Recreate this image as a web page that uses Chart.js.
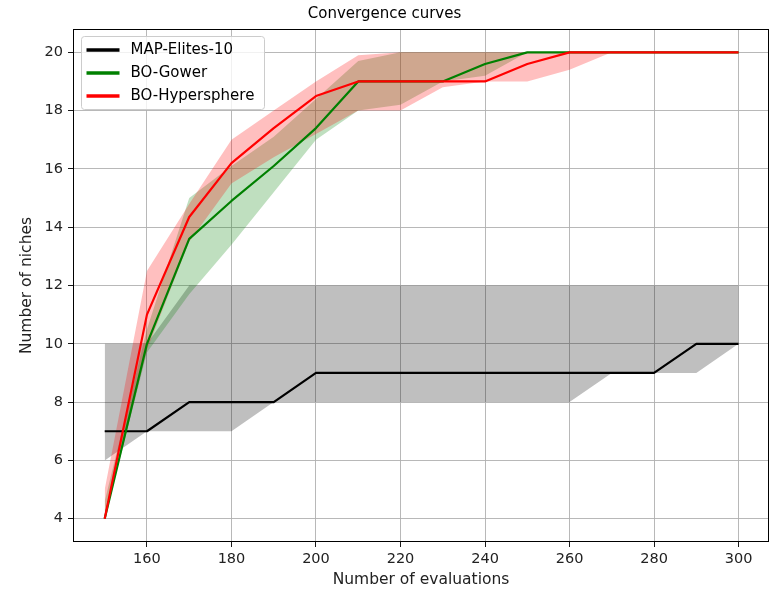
<!DOCTYPE html>
<html>
<head>
<meta charset="utf-8">
<script src="https://cdn.jsdelivr.net/npm/chart.js@4"></script>
<style>
	html, body { margin: 0; padding: 0; background: #fff; }
	#wrap { width: 769px; height: 591px; }
</style>
</head>
<body>
<div id="wrap"><canvas id="myChart"></canvas></div>
<script>
// number of evaluations
const evals = [150, 160, 170, 180, 190, 200, 210, 220, 230, 240, 250, 260, 270, 280, 290, 300];

// MAP-Elites-10
const mapMean = [7, 7, 8, 8, 8, 9, 9, 9, 9, 9, 9, 9, 9, 9, 10, 10];
const mapLow = [6, 7, 7, 7, 8, 8, 8, 8, 8, 8, 8, 8, 9, 9, 9, 10];
const mapHigh = [10, 10, 12, 12, 12, 12, 12, 12, 12, 12, 12, 12, 12, 12, 12, 12];

// BO-Gower
const gowerMean = [4, 10, 13.6, 14.9, 16.1, 17.4, 19, 19, 19, 19.6, 20, 20, 20, 20, 20, 20];
const gowerLow = [4, 9.7, 11.7, 13.4, 15.2, 17, 18, 18.2, 19, 19.2, 20, 20, 20, 20, 20, 20];
const gowerHigh = [4.6, 10.5, 15, 16.1, 17.1, 18.4, 19.7, 20, 20, 20, 20, 20, 20, 20, 20, 20];

// BO-Hypersphere
const hyperMean = [4, 11, 14.35, 16.2, 17.4, 18.5, 19, 19, 19, 19, 19.6, 20, 20, 20, 20, 20];
const hyperLow = [4, 9.8, 13.5, 15.5, 16.4, 17.2, 18, 18, 18.8, 19, 19, 19.4, 20, 20, 20, 20];
const hyperHigh = [5, 12.5, 14.8, 17, 18, 19, 19.9, 20, 20, 20, 20, 20, 20, 20, 20, 20];

const xTicks = [160, 180, 200, 220, 240, 260, 280, 300];
const yTicks = [4, 6, 8, 10, 12, 14, 16, 18, 20];

const FONT = "'DejaVu Sans', sans-serif";

function pts(arr) {
	return evals.map((x, i) => ({ x: x, y: arr[i] }));
}

function band(arr, color, order, fillNext) {
	return {
		data: pts(arr),
		borderWidth: 0,
		pointRadius: 0,
		backgroundColor: color,
		fill: fillNext ? "+1" : false,
		order: order,
	};
}

function line(label, arr, color, order) {
	return {
		label: label,
		data: pts(arr),
		borderColor: color,
		borderWidth: 2.2,
		borderJoinStyle: "round",
		pointRadius: 0,
		fill: false,
		order: order,
		showInLegend: true,
	};
}

// legend drawn inside the plot, top left (like matplotlib)
const legendBox = {
	id: "legendBox",
	afterDatasetsDraw(chart) {
		const ctx = chart.ctx;
		const area = chart.chartArea;
		const items = chart.data.datasets.filter((d) => d.showInLegend);
		const x0 = area.left + 8.5;
		const y0 = area.top + 7.5;
		const w = 183;
		const h = 73;
		ctx.save();
		ctx.beginPath();
		ctx.roundRect(x0, y0, w, h, 3);
		ctx.fillStyle = "rgba(255,255,255,0.8)";
		ctx.fill();
		ctx.strokeStyle = "#cccccc";
		ctx.lineWidth = 1;
		ctx.stroke();
		ctx.font = "15px " + FONT;
		ctx.textBaseline = "middle";
		items.forEach((d, i) => {
			const cy = y0 + 13.5 + i * 23;
			ctx.beginPath();
			ctx.moveTo(x0 + 5, cy);
			ctx.lineTo(x0 + 38, cy);
			ctx.strokeStyle = d.borderColor;
			ctx.lineWidth = 3.3;
			ctx.stroke();
			ctx.fillStyle = "#000";
			ctx.fillText(d.label, x0 + 49, cy);
		});
		ctx.restore();
	},
};

// axes frame (all four spines)
const frame = {
	id: "frame",
	afterDraw(chart) {
		const ctx = chart.ctx;
		const a = chart.chartArea;
		ctx.save();
		ctx.strokeStyle = "#000";
		ctx.lineWidth = 1;
		ctx.strokeRect(a.left + 0.5, a.top + 0.5, a.right - a.left - 1, a.bottom - a.top - 1);
		ctx.restore();
	},
};

const ctx = document.getElementById("myChart").getContext("2d");
const chart = new Chart(ctx, {
	type: "line",
	data: {
		datasets: [
			band(mapHigh, "rgba(0,0,0,0.25)", 10, true),
			band(mapLow, "rgba(0,0,0,0.25)", 10, false),
			band(gowerHigh, "rgba(0,128,0,0.25)", 9, true),
			band(gowerLow, "rgba(0,128,0,0.25)", 9, false),
			band(hyperHigh, "rgba(255,0,0,0.25)", 8, true),
			band(hyperLow, "rgba(255,0,0,0.25)", 8, false),
			line("MAP-Elites-10", mapMean, "#000000", 3),
			line("BO-Gower", gowerMean, "#008000", 2),
			line("BO-Hypersphere", hyperMean, "#ff0000", 1),
		],
	},
	options: {
		responsive: true,
		maintainAspectRatio: false,
		animation: false,
		layout: { padding: 0 },
		plugins: {
			legend: { display: false },
			tooltip: { enabled: false },
			title: {
				display: true,
				text: "Convergence curves",
				color: "#000",
				font: { family: FONT, size: 15, weight: "normal" },
				padding: { top: 5, bottom: 6 },
			},
		},
		scales: {
			x: {
				type: "linear",
				min: 142.5,
				max: 307.2,
				afterBuildTicks: (scale) => {
					scale.ticks = xTicks.map((v) => ({ value: v }));
				},
				afterFit: (scale) => {
					scale.height = 49;
				},
				grid: {
					color: "#b0b0b0",
					lineWidth: 0.9,
					tickColor: "#000",
					tickLength: 5,
				},
				border: { display: false },
				ticks: {
					color: "#222",
					padding: 4,
					maxRotation: 0,
					font: { family: FONT, size: 14.5 },
				},
				title: {
					display: true,
					text: "Number of evaluations",
					color: "#222",
					font: { family: FONT, size: 15.5 },
					padding: { top: 0, bottom: 2 },
				},
			},
			y: {
				type: "linear",
				min: 3.2,
				max: 20.8,
				afterBuildTicks: (scale) => {
					scale.ticks = yTicks.map((v) => ({ value: v }));
				},
				afterFit: (scale) => {
					scale.width = 73;
				},
				grid: {
					color: "#b0b0b0",
					lineWidth: 0.9,
					tickColor: "#000",
					tickLength: 5,
				},
				border: { display: false },
				ticks: {
					color: "#222",
					padding: 5,
					font: { family: FONT, size: 14.5 },
				},
				title: {
					display: true,
					text: "Number of niches",
					color: "#222",
					font: { family: FONT, size: 15.5 },
					padding: { top: 18, bottom: 0 },
				},
			},
		},
	},
	plugins: [legendBox, frame],
});
</script>
</body>
</html>
